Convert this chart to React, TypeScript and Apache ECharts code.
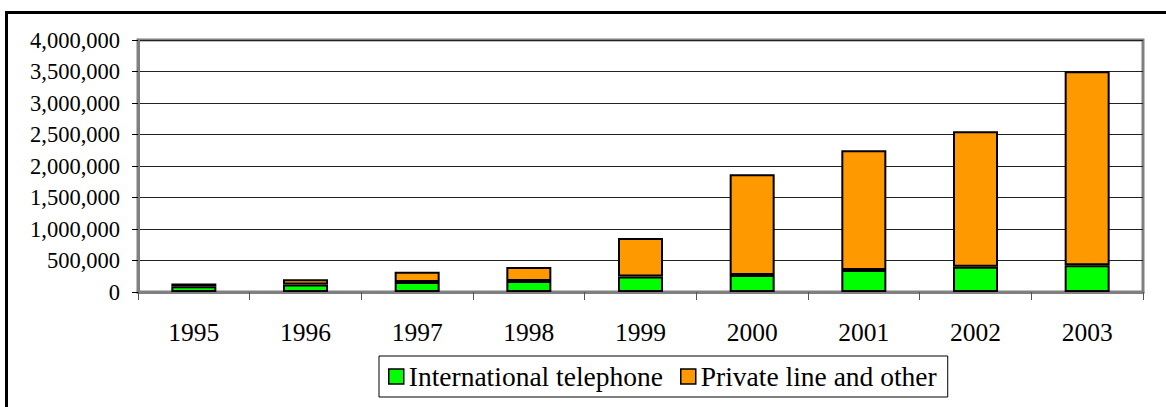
import React, { useEffect, useRef } from "react";
import * as echarts from "echarts";

const years = ["1995", "1996", "1997", "1998", "1999", "2000", "2001", "2002", "2003"];
const intlTelephone = [90000, 118000, 160000, 175000, 245000, 270000, 350000, 400000, 425000];
const privateLine = [45000, 85000, 160000, 222000, 612000, 1600000, 1900000, 2150000, 3080000];
const yTicks = { min: 0, max: 4000000, interval: 500000 };

const FONT = "Liberation Serif";

export default function App() {
  const ref = useRef<HTMLDivElement>(null);
  useEffect(() => {
    const chart = echarts.init(ref.current!, null, { renderer: "svg" });
    chart.setOption({
      animation: false,
      backgroundColor: "#ffffff",
      textStyle: { fontFamily: FONT, color: "#000" },
      grid: {
        left: 138,
        top: 40,
        right: 23,
        bottom: 115,
        show: true,
        borderColor: "#808080",
        borderWidth: 3,
        containLabel: false,
      },
      graphic: [
        { type: "line", shape: { x1: 6.5, y1: 12.5, x2: 6.5, y2: 407 }, style: { stroke: "#000", lineWidth: 3 } },
        { type: "line", shape: { x1: 5, y1: 12.5, x2: 1166, y2: 12.5 }, style: { stroke: "#000", lineWidth: 3 } },
      ],
      legend: {
        left: 379,
        top: 356,
        padding: [6, 11, 6, 9],
        borderColor: "#000",
        borderWidth: 1,
        itemWidth: 15,
        itemHeight: 15,
        itemGap: 17,
        icon: "rect",
        itemStyle: { borderColor: "#000", borderWidth: 1.5 },
        textStyle: { fontFamily: FONT, fontSize: 27.5, color: "#000", lineHeight: 29 },
        data: ["International telephone", "Private line and other"],
      },
      xAxis: {
        type: "category",
        data: years,
        boundaryGap: true,
        axisLine: { show: true, lineStyle: { color: "#808080", width: 3 } },
        axisTick: { show: true, length: 8, lineStyle: { color: "#555", width: 1 } },
        axisLabel: { fontFamily: FONT, fontSize: 25.5, color: "#000", margin: 27 },
      },
      yAxis: {
        type: "value",
        min: yTicks.min,
        max: yTicks.max,
        interval: yTicks.interval,
        axisLine: { show: true, lineStyle: { color: "#808080", width: 3 } },
        axisTick: { show: true, length: 6, lineStyle: { color: "#000", width: 1 } },
        splitLine: { show: true, lineStyle: { color: "#222", width: 1 } },
        axisLabel: {
          fontFamily: FONT,
          fontSize: 22.5,
          color: "#000",
          margin: 18,
          formatter: (v: number) => v.toLocaleString("en-US"),
        },
      },
      series: [
        {
          name: "International telephone",
          type: "bar",
          stack: "total",
          barWidth: 45,
          data: intlTelephone,
          itemStyle: { color: "#00ff00", borderColor: "#000", borderWidth: 2 },
        },
        {
          name: "Private line and other",
          type: "bar",
          stack: "total",
          barWidth: 45,
          data: privateLine,
          itemStyle: { color: "#ff9900", borderColor: "#000", borderWidth: 2 },
        },
      ],
    });
    return () => chart.dispose();
  }, []);
  return (
    <div style={{ position: "absolute", left: 0, top: 0, width: 1166, height: 407 }}>
      <div ref={ref} style={{ width: 1166, height: 407 }} />
    </div>
  );
}
